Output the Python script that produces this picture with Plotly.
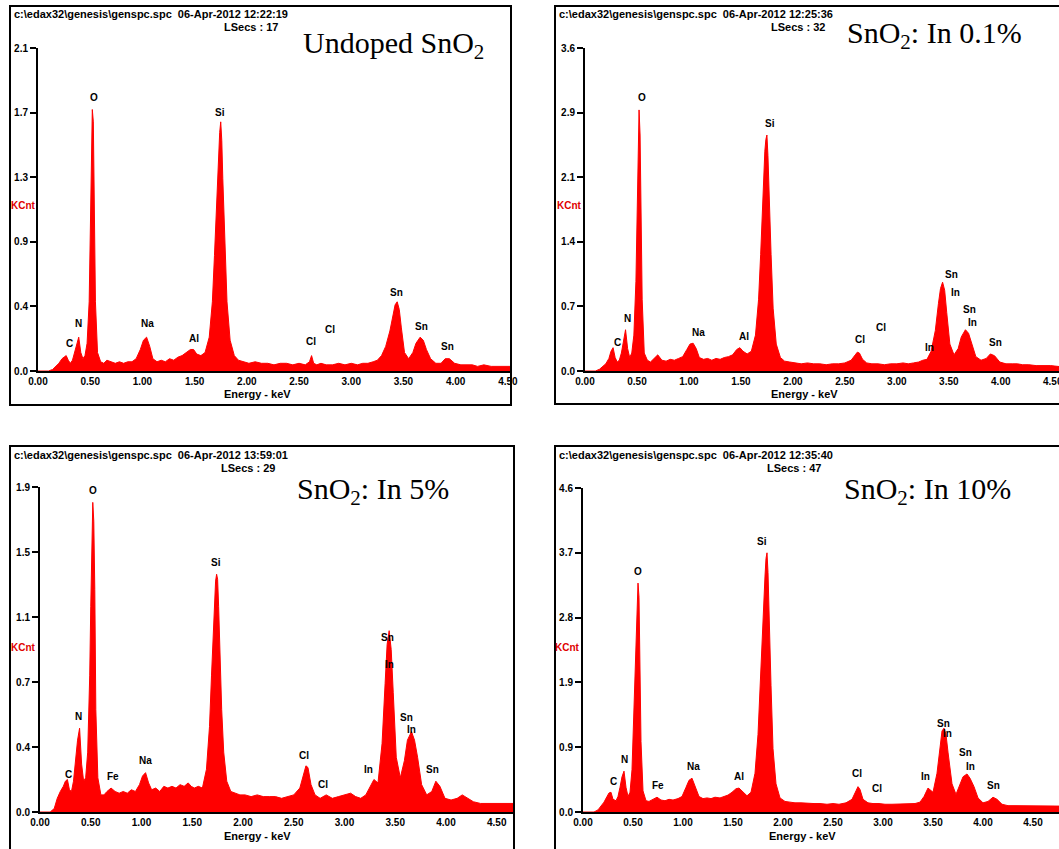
import plotly.graph_objects as go

W, H = 1059, 849

# ---------------- data (KCnt vs keV) ----------------
energy_keV = [
    0.00, 0.10, 0.14, 0.17, 0.20, 0.23, 0.25, 0.27, 0.29, 0.31,
    0.33, 0.35, 0.37, 0.39, 0.41, 0.43, 0.45, 0.47, 0.49, 0.50,
    0.51, 0.52, 0.53, 0.54, 0.55, 0.57, 0.60, 0.63, 0.66, 0.70,
    0.74, 0.78, 0.82, 0.86, 0.90, 0.94, 0.98, 1.01, 1.04, 1.07,
    1.10, 1.14, 1.18, 1.22, 1.26, 1.30, 1.34, 1.38, 1.42, 1.46,
    1.49, 1.52, 1.56, 1.60, 1.64, 1.67, 1.69, 1.71, 1.72, 1.73,
    1.74, 1.75, 1.76, 1.77, 1.79, 1.81, 1.84, 1.88, 1.92, 1.97,
    2.02, 2.08, 2.14, 2.20, 2.26, 2.32, 2.38, 2.44, 2.50, 2.56,
    2.60, 2.62, 2.64, 2.67, 2.71, 2.76, 2.82, 2.88, 2.94, 3.00,
    3.06, 3.11, 3.16, 3.21, 3.25, 3.29, 3.33, 3.37, 3.40, 3.42,
    3.44, 3.46, 3.48, 3.51, 3.55, 3.59, 3.62, 3.66, 3.69, 3.72,
    3.76, 3.81, 3.86, 3.90, 3.94, 3.99, 4.05, 4.11, 4.16, 4.21,
    4.27, 4.34, 4.41, 4.48, 4.56, 4.64, 4.72, 4.80,
]

# the 10 % spectrum sits on a slightly stretched energy scale in the reference
energy_keV_in10 = [
    0.00, 0.11, 0.15, 0.18, 0.21, 0.24, 0.26, 0.28, 0.30, 0.33,
    0.35, 0.37, 0.39, 0.41, 0.43, 0.45, 0.47, 0.49, 0.51, 0.53,
    0.54, 0.55, 0.56, 0.57, 0.58, 0.60, 0.63, 0.66, 0.69, 0.74,
    0.78, 0.82, 0.86, 0.90, 0.95, 0.99, 1.03, 1.06, 1.09, 1.12,
    1.16, 1.20, 1.24, 1.28, 1.32, 1.37, 1.41, 1.45, 1.49, 1.53,
    1.56, 1.60, 1.64, 1.68, 1.72, 1.75, 1.77, 1.80, 1.81, 1.82,
    1.83, 1.84, 1.85, 1.86, 1.88, 1.90, 1.93, 1.97, 2.02, 2.07,
    2.12, 2.18, 2.25, 2.31, 2.37, 2.44, 2.50, 2.56, 2.63, 2.69,
    2.73, 2.75, 2.77, 2.80, 2.85, 2.90, 2.96, 3.02, 3.09, 3.15,
    3.21, 3.27, 3.32, 3.37, 3.41, 3.45, 3.50, 3.54, 3.57, 3.59,
    3.61, 3.63, 3.65, 3.69, 3.73, 3.77, 3.80, 3.84, 3.87, 3.91,
    3.95, 4.00, 4.05, 4.10, 4.14, 4.19, 4.25, 4.32, 4.37, 4.42,
    4.48, 4.56, 4.63, 4.70, 4.79, 4.87, 4.96, 5.04,
]

undoped = [
    0.00, 0.00, 0.01, 0.03, 0.05, 0.08, 0.09, 0.10, 0.07, 0.05,
    0.07, 0.12, 0.18, 0.22, 0.12, 0.08, 0.10, 0.18, 0.45, 0.95,
    1.40, 1.70, 1.62, 1.10, 0.45, 0.12, 0.06, 0.05, 0.07, 0.06,
    0.05, 0.06, 0.05, 0.06, 0.06, 0.08, 0.14, 0.20, 0.22, 0.16,
    0.08, 0.06, 0.07, 0.06, 0.08, 0.07, 0.09, 0.10, 0.12, 0.14,
    0.14, 0.11, 0.10, 0.12, 0.22, 0.45, 0.75, 1.10, 1.30, 1.45,
    1.55, 1.62, 1.50, 1.25, 0.80, 0.45, 0.20, 0.10, 0.07, 0.06,
    0.05, 0.06, 0.05, 0.05, 0.04, 0.05, 0.05, 0.04, 0.05, 0.04,
    0.06, 0.10, 0.05, 0.04, 0.05, 0.04, 0.04, 0.05, 0.04, 0.05,
    0.04, 0.05, 0.05, 0.06, 0.07, 0.10, 0.16, 0.26, 0.36, 0.43,
    0.45, 0.40, 0.28, 0.12, 0.08, 0.12, 0.18, 0.22, 0.20, 0.14,
    0.08, 0.05, 0.05, 0.08, 0.08, 0.05, 0.04, 0.04, 0.04, 0.03,
    0.04, 0.03, 0.03, 0.03, 0.03, 0.03, 0.03, 0.03,
]

in_0_1 = [
    0.00, 0.00, 0.02, 0.05, 0.08, 0.14, 0.22, 0.26, 0.15, 0.10,
    0.12, 0.20, 0.35, 0.46, 0.25, 0.15, 0.20, 0.40, 1.00, 1.70,
    2.40, 2.91, 2.63, 1.80, 0.80, 0.20, 0.12, 0.10, 0.13, 0.18,
    0.12, 0.11, 0.13, 0.12, 0.14, 0.16, 0.24, 0.30, 0.31, 0.25,
    0.15, 0.13, 0.14, 0.12, 0.14, 0.13, 0.15, 0.16, 0.18, 0.24,
    0.26, 0.22, 0.19, 0.22, 0.40, 0.80, 1.30, 1.90, 2.20, 2.45,
    2.58, 2.63, 2.40, 2.00, 1.30, 0.70, 0.30, 0.15, 0.11, 0.10,
    0.09, 0.08, 0.09, 0.08, 0.08, 0.07, 0.08, 0.08, 0.09, 0.12,
    0.18, 0.21, 0.20, 0.13, 0.09, 0.08, 0.08, 0.07, 0.08, 0.08,
    0.09, 0.08, 0.09, 0.10, 0.12, 0.13, 0.22, 0.45, 0.75, 0.92,
    0.99, 0.90, 0.65, 0.30, 0.18, 0.25, 0.38, 0.46, 0.42, 0.30,
    0.16, 0.12, 0.14, 0.19, 0.17, 0.10, 0.08, 0.08, 0.08, 0.07,
    0.07, 0.06, 0.06, 0.06, 0.05, 0.05, 0.05, 0.05,
]

in_5 = [
    0.00, 0.00, 0.02, 0.08, 0.12, 0.15, 0.18, 0.19, 0.13, 0.12,
    0.18, 0.30, 0.42, 0.49, 0.28, 0.18, 0.20, 0.35, 0.80, 1.20,
    1.55, 1.81, 1.70, 1.30, 0.60, 0.20, 0.10, 0.10, 0.12, 0.14,
    0.12, 0.11, 0.12, 0.11, 0.13, 0.12, 0.16, 0.21, 0.23, 0.17,
    0.13, 0.14, 0.12, 0.15, 0.14, 0.15, 0.14, 0.16, 0.15, 0.17,
    0.15, 0.14, 0.15, 0.14, 0.25, 0.50, 0.80, 1.10, 1.25, 1.35,
    1.39, 1.36, 1.20, 0.95, 0.60, 0.35, 0.18, 0.12, 0.11, 0.10,
    0.10, 0.09, 0.10, 0.09, 0.09, 0.09, 0.08, 0.09, 0.10, 0.14,
    0.22, 0.27, 0.26, 0.16, 0.10, 0.08, 0.10, 0.08, 0.09, 0.10,
    0.11, 0.09, 0.08, 0.10, 0.15, 0.19, 0.17, 0.40, 0.75, 0.98,
    1.06, 0.95, 0.70, 0.32, 0.20, 0.30, 0.42, 0.47, 0.42, 0.32,
    0.16, 0.10, 0.12, 0.18, 0.15, 0.08, 0.07, 0.08, 0.10, 0.08,
    0.06, 0.05, 0.05, 0.05, 0.05, 0.05, 0.05, 0.05,
]

in_10 = [
    0.00, 0.00, 0.03, 0.08, 0.14, 0.22, 0.27, 0.28, 0.18, 0.16,
    0.22, 0.35, 0.50, 0.58, 0.35, 0.22, 0.28, 0.60, 1.40, 2.20,
    2.90, 3.25, 3.05, 2.20, 1.00, 0.30, 0.16, 0.15, 0.17, 0.21,
    0.17, 0.16, 0.18, 0.17, 0.19, 0.22, 0.35, 0.45, 0.48, 0.38,
    0.22, 0.19, 0.20, 0.19, 0.21, 0.20, 0.22, 0.24, 0.28, 0.33,
    0.34, 0.28, 0.23, 0.28, 0.55, 1.10, 1.80, 2.60, 3.00, 3.35,
    3.60, 3.68, 3.40, 2.80, 1.80, 0.90, 0.40, 0.20, 0.15, 0.14,
    0.13, 0.13, 0.12, 0.12, 0.12, 0.11, 0.12, 0.11, 0.13, 0.18,
    0.30, 0.36, 0.32, 0.18, 0.13, 0.12, 0.12, 0.11, 0.11, 0.11,
    0.12, 0.11, 0.12, 0.14, 0.22, 0.34, 0.28, 0.55, 0.95, 1.15,
    1.19, 1.10, 0.85, 0.40, 0.25, 0.38, 0.50, 0.54, 0.48, 0.36,
    0.20, 0.13, 0.15, 0.21, 0.18, 0.11, 0.09, 0.09, 0.09, 0.09,
    0.08, 0.08, 0.08, 0.08, 0.08, 0.08, 0.08, 0.08,
]

x_tick_vals = [0.0, 0.5, 1.0, 1.5, 2.0, 2.5, 3.0, 3.5, 4.0, 4.5]
x_tick_text = ["0.00", "0.50", "1.00", "1.50", "2.00", "2.50", "3.00", "3.50", "4.00", "4.50"]

y_ticks_undoped = ["0.0", "0.4", "0.9", "1.3", "1.7", "2.1"]
y_ticks_0_1 = ["0.0", "0.7", "1.4", "2.1", "2.9", "3.6"]
y_ticks_5 = ["0.0", "0.4", "0.7", "1.1", "1.5", "1.9"]
y_ticks_10 = ["0.0", "0.9", "1.9", "2.8", "3.7", "4.6"]
y_full_scale = [2.1, 3.6, 1.9, 4.6]

# peak labels: (text, keV, KCnt)
labels_undoped = [("O", 0.54, 1.78), ("Si", 1.74, 1.68), ("C", 0.30, 0.18), ("N", 0.39, 0.31),
                  ("Na", 1.05, 0.31), ("Al", 1.49, 0.21), ("Cl", 2.61, 0.19), ("Cl", 2.80, 0.27),
                  ("Sn", 3.43, 0.51), ("Sn", 3.67, 0.29), ("Sn", 3.92, 0.16)]
labels_0_1 = [("O", 0.55, 3.05), ("Si", 1.78, 2.76), ("C", 0.31, 0.32), ("N", 0.41, 0.58),
              ("Na", 1.09, 0.43), ("Al", 1.53, 0.38), ("Cl", 2.65, 0.35), ("Cl", 2.85, 0.48),
              ("In", 3.31, 0.26), ("Sn", 3.53, 1.08), ("In", 3.56, 0.88), ("Sn", 3.70, 0.68),
              ("In", 3.73, 0.54), ("Sn", 3.95, 0.32)]
labels_5 = [("O", 0.52, 1.88), ("Si", 1.73, 1.46), ("C", 0.28, 0.22), ("N", 0.38, 0.56),
            ("Fe", 0.72, 0.21), ("Na", 1.04, 0.30), ("Cl", 2.60, 0.33), ("Cl", 2.79, 0.16),
            ("In", 3.24, 0.25), ("Sn", 3.42, 1.02), ("In", 3.44, 0.86), ("Sn", 3.61, 0.55),
            ("In", 3.66, 0.48), ("Sn", 3.87, 0.25)]
labels_10 = [("O", 0.55, 3.41), ("Si", 1.79, 3.84), ("C", 0.30, 0.43), ("N", 0.41, 0.75),
             ("Fe", 0.75, 0.38), ("Na", 1.10, 0.65), ("Al", 1.56, 0.51), ("Cl", 2.74, 0.54),
             ("Cl", 2.94, 0.33), ("In", 3.42, 0.51), ("Sn", 3.60, 1.26), ("In", 3.64, 1.12),
             ("Sn", 3.82, 0.84), ("In", 3.87, 0.65), ("Sn", 4.10, 0.38)]

titles = ["Undoped SnO<sub>2</sub>", "SnO<sub>2</sub>: In 0.1%", "SnO<sub>2</sub>: In 5%", "SnO<sub>2</sub>: In 10%"]
header_times = ["12:22:19", "12:25:36", "13:59:01", "12:35:40"]
live_secs = ["17", "32", "29", "47"]

# ---------------- layout geometry (pixels) ----------------
geo = [
    dict(box=(38, 48, 511, 371), xmax=4.53, frame=(10, 6, 511, 405), title=(393, 45),
         head=(12, 14), lsec=(280, 27), kcnt=(23, 206), elab=(257, 394)),
    dict(box=(585, 48, 1059, 371), xmax=4.56, frame=(555, 6, 1062, 404), title=(934, 35),
         head=(557, 14), lsec=(827, 27), kcnt=(569, 206), elab=(804, 394)),
    dict(box=(40, 487, 514, 812), xmax=4.67, frame=(10, 446, 514, 852), title=(373, 491),
         head=(12, 455), lsec=(277, 468), kcnt=(23, 647), elab=(257, 836)),
    dict(box=(583, 488, 1059, 812), xmax=4.76, frame=(555, 446, 1062, 852), title=(927, 491),
         head=(557, 455), lsec=(823, 468), kcnt=(567, 647), elab=(802, 836)),
]

energies = [energy_keV, energy_keV, energy_keV, energy_keV_in10]
series = [undoped, in_0_1, in_5, in_10]
yticks = [y_ticks_undoped, y_ticks_0_1, y_ticks_5, y_ticks_10]
peak_labels = [labels_undoped, labels_0_1, labels_5, labels_10]


def px(x):
    return x / W


def py(y):
    return 1 - y / H


fig = go.Figure()
shapes = []
annotations = []
TICK = dict(family="Liberation Sans", size=10, color="black", weight="bold")
SMALL = dict(family="Liberation Sans", size=10, color="black", weight="bold")
HEAD = dict(family="Liberation Sans", size=11, color="black", weight="bold")

for i in range(4):
    g = geo[i]
    n = "" if i == 0 else str(i + 1)
    xa, ya = "x" + n, "y" + n
    left, top, right, bottom = g["box"]
    fs = y_full_scale[i]

    fig.add_trace(go.Scatter(
        x=energies[i], y=series[i], xaxis=xa, yaxis=ya,
        mode="lines", line=dict(color="#ff0000", width=1),
        fill="tozeroy", fillcolor="#ff0000", showlegend=False, hoverinfo="skip",
    ))

    fig.layout["xaxis" + n] = dict(
        domain=[px(left), px(right)], range=[0, g["xmax"]], anchor=ya, automargin=False,
        showline=True, linecolor="black", linewidth=2, showgrid=False, zeroline=False,
        ticks="", tickvals=x_tick_vals, ticktext=x_tick_text, tickfont=TICK,
        ticklabeloverflow="allow", fixedrange=True,
    )
    fig.layout["yaxis" + n] = dict(
        domain=[py(bottom), py(top)], range=[0, fs], anchor=xa, automargin=False,
        showline=True, linecolor="black", linewidth=2, showgrid=False, zeroline=False,
        ticks="outside", ticklen=6, tickwidth=1.5, tickcolor="black",
        tickvals=[fs * k / 5 for k in range(6)], ticktext=yticks[i], tickfont=TICK,
        ticklabeloverflow="allow", fixedrange=True,
    )

    fx0, fy0, fx1, fy1 = g["frame"]
    shapes.append(dict(type="rect", xref="paper", yref="paper",
                       x0=px(fx0), x1=px(fx1), y0=py(fy1), y1=py(fy0),
                       line=dict(color="black", width=2), layer="above"))

    hx, hy = g["head"]
    annotations.append(dict(
        x=px(hx), y=py(hy), xref="paper", yref="paper", xanchor="left", yanchor="middle",
        text="c:\\edax32\\genesis\\genspc.spc&nbsp;&nbsp;06-Apr-2012 " + header_times[i],
        showarrow=False, font=HEAD))
    lx, ly = g["lsec"]
    annotations.append(dict(
        x=px(lx), y=py(ly), xref="paper", yref="paper", xanchor="right", yanchor="middle",
        text="LSecs : " + live_secs[i], showarrow=False, font=HEAD))
    tx, ty = g["title"]
    annotations.append(dict(
        x=px(tx), y=py(ty), xref="paper", yref="paper", xanchor="center", yanchor="middle",
        text=titles[i], showarrow=False,
        font=dict(family="Liberation Serif", size=30, color="black")))
    kx, ky = g["kcnt"]
    annotations.append(dict(
        x=px(kx), y=py(ky), xref="paper", yref="paper", xanchor="center", yanchor="middle",
        text="KCnt", showarrow=False,
        font=dict(family="Liberation Sans", size=10, color="#e00000", weight="bold")))
    ex, ey = g["elab"]
    annotations.append(dict(
        x=px(ex), y=py(ey), xref="paper", yref="paper", xanchor="center", yanchor="middle",
        text="Energy - keV", showarrow=False, font=HEAD))

    for (txt, e, c) in peak_labels[i]:
        annotations.append(dict(
            x=e, y=c, xref=xa, yref=ya, xanchor="center", yanchor="middle",
            text=txt, showarrow=False, font=SMALL))

fig.update_layout(
    width=W, height=H, margin=dict(l=0, r=0, t=0, b=0, autoexpand=False),
    paper_bgcolor="white", plot_bgcolor="white",
    shapes=shapes, annotations=annotations, showlegend=False,
)

fig.write_html("out.html")
